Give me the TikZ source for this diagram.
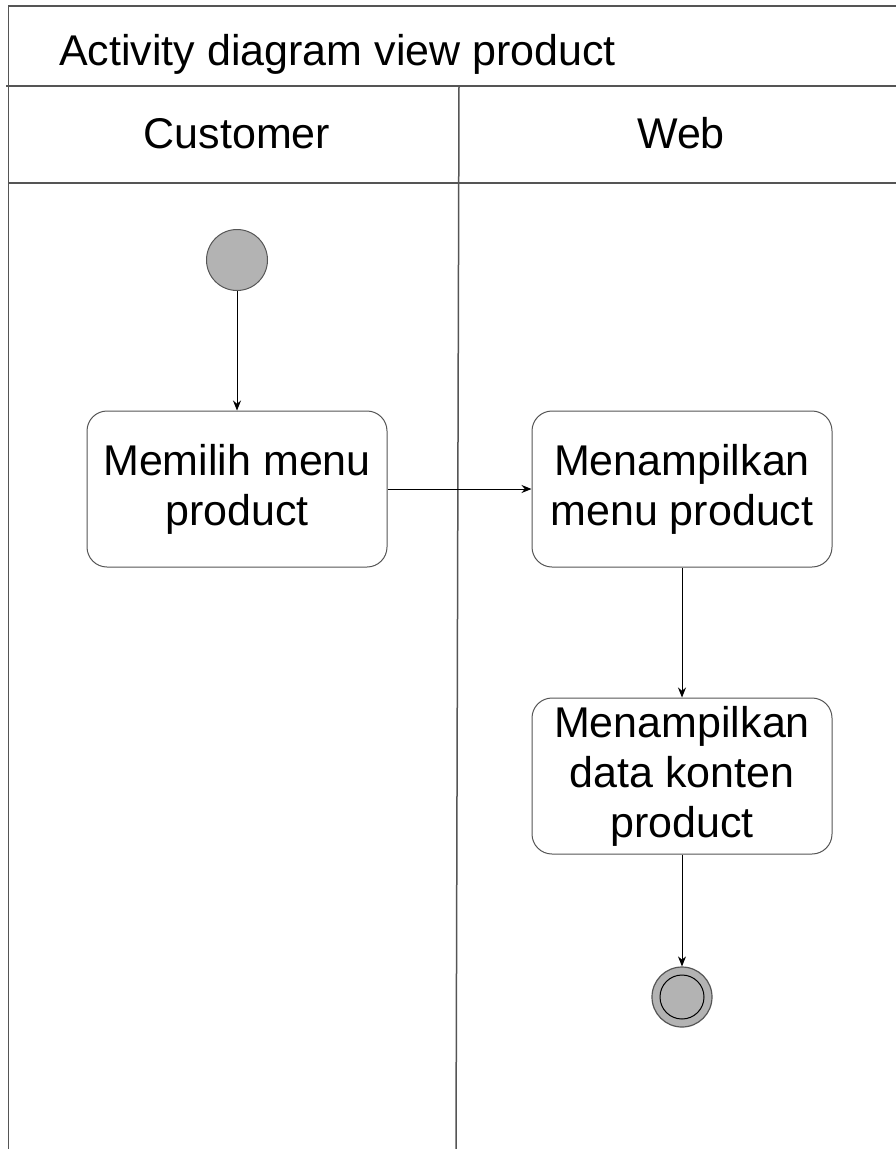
\documentclass[tikz,border=0pt]{standalone}
\usepackage{fontspec}
\setmainfont{Liberation Sans}
\usetikzlibrary{arrows.meta}
\definecolor{frame}{RGB}{85,85,85}
\definecolor{nodefill}{RGB}{179,179,179}
\tikzset{
  big/.style={font=\fontsize{43}{50}\selectfont},
  lane/.style={draw=frame, line width=1.5pt},
  action/.style={draw=frame, line width=1pt, rounded corners=20pt, fill=white,
    minimum width=300pt, minimum height=156pt, align=center, inner sep=0pt, big},
  startnode/.style={circle, draw=frame, line width=1pt, fill=nodefill, minimum size=61pt, inner sep=0pt},
  endnode/.style={circle, draw=frame, line width=1.2pt, fill=nodefill, minimum size=60pt, inner sep=0pt},
  flow/.style={draw=black, line width=1pt, -{Stealth[length=10pt,width=8pt]}}
}
\begin{document}
\begin{tikzpicture}[x=1pt,y=-1pt]
\useasboundingbox (0,0) rectangle (896,1149);
\fill[white] (0,0) rectangle (896,1149);
% frame and lanes
\draw[lane] (8.5,1149) -- (8.5,6) -- (896,6);
\draw[lane] (6,86) -- (896,86);
\draw[lane] (8.5,183) -- (896,183);
\draw[lane] (459,86) -- (456,1149);
% headings
\node[big, anchor=base west, inner sep=0pt] (title) at (59,65) {Activity diagram view product};
\node[big, anchor=base, inner sep=0pt] (cust) at (237,148) {Customer};
\node[big, anchor=base, inner sep=0pt] (web) at (681,148) {Web};
% nodes
\node[startnode] (start) at (237,260) {};
\node[action] (a1) at (237,489) {Memilih menu\\product};
\node[action] (a2) at (682,489) {Menampilkan\\menu product};
\node[action] (a3) at (682,776) {Menampilkan\\data konten\\product};
\node[endnode] (end) at (682,997) {};
\node[circle, draw=black, line width=1pt, fill=nodefill, minimum size=44pt, inner sep=0pt] (endin) at (end.center) {};
% flows
\draw[flow] (start.south) -- (a1.north);
\draw[flow] (a1.east) -- (a2.west);
\draw[flow] (a2.south) -- (a3.north);
\draw[flow] (a3.south) -- (end.north);
\end{tikzpicture}
\end{document}
